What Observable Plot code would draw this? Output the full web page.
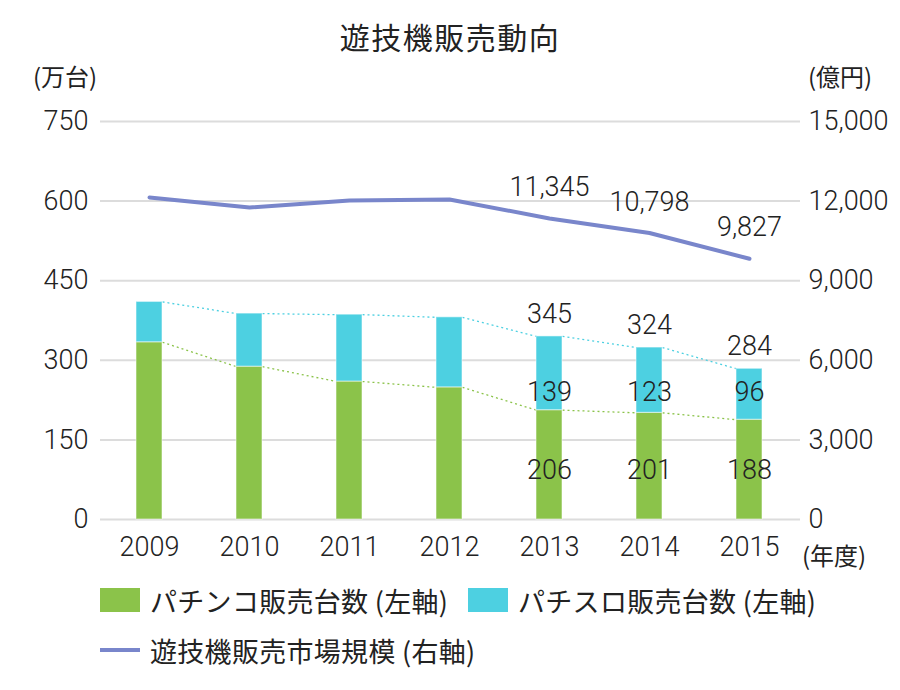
<!DOCTYPE html>
<html>
<head>
<meta charset="utf-8">
<script src="https://cdn.jsdelivr.net/npm/d3@7"></script>
<script src="https://cdn.jsdelivr.net/npm/@observablehq/plot@0.6"></script>
<style>
  html, body { margin: 0; padding: 0; background: #fff; }
  #wrap { position: relative; width: 900px; height: 690px; font-family: Roboto, "Noto Sans CJK JP", sans-serif; color: #222; }
  #wrap svg { position: absolute; left: 0; top: 0; }
  #wrap svg text { font-weight: 300; }
  .abs { position: absolute; white-space: nowrap; font-family: "Noto Sans CJK JP", Roboto, sans-serif; color: #222; line-height: 1; }
  .title { left: 0; width: 900px; text-align: center; top: 21px; font-size: 30px; letter-spacing: 1.5px; }
  .unit { top: 64px; font-size: 24px; }
  .leg { font-size: 27px; letter-spacing: 0.3px; }
  .sw { position: absolute; width: 40px; height: 24px; }
  .ln { position: absolute; width: 40px; height: 4px; }
</style>
</head>
<body>
<div id="wrap"></div>
<script>
const years = [2009, 2010, 2011, 2012, 2013, 2014, 2015];
const pachinko = [334, 288, 260, 249, 206, 201, 188];
const pachislot = [76, 100, 126, 132, 139, 123, 96];
const market = [12137, 11760, 12024, 12062, 11345, 10798, 9827];
const leftTicks = [0, 150, 300, 450, 600, 750];
const rightTicks = [0, 3000, 6000, 9000, 12000, 15000];
const labeledYears = [2013, 2014, 2015];

const GREEN = "#8BC34A", CYAN = "#4DD0E1", LINE = "#7986CB";
const ratio = rightTicks[rightTicks.length - 1] / leftTicks[leftTicks.length - 1];
const half = 0.13;

const rows = years.map((y, i) => ({
  year: y, green: pachinko[i], cyan: pachislot[i], total: pachinko[i] + pachislot[i], market: market[i]
}));
const pairs = rows.slice(0, -1).map((r, i) => ({a: r, b: rows[i + 1]}));
const labeled = rows.filter(r => labeledYears.includes(r.year));
const fmt = d3.format(",");

const chart = Plot.plot({
  width: 900,
  height: 690,
  marginLeft: 100,
  marginRight: 100,
  marginTop: 121,
  marginBottom: 171,
  style: {fontFamily: "Roboto, 'Noto Sans CJK JP', sans-serif", fontSize: "27px", color: "#222", background: "transparent"},
  x: {domain: [2008.51, 2015.51]},
  y: {domain: [0, 750]},
  marks: [
    Plot.gridY(leftTicks, {stroke: "#dcdcdc", strokeOpacity: 1, strokeWidth: 2}),
    Plot.axisY({ticks: leftTicks, anchor: "left", tickSize: 0, tickPadding: 12, label: null, fontSize: 27}),
    Plot.axisY({ticks: leftTicks, anchor: "right", tickSize: 0, tickPadding: 8, label: null, fontSize: 27,
      tickFormat: d => fmt(d * ratio)}),
    Plot.axisX({ticks: years, tickFormat: d => String(d), tickSize: 0, tickPadding: 17, label: null, fontSize: 27}),
    Plot.link(pairs, {x1: d => d.a.year + half, y1: d => d.a.total, x2: d => d.b.year - half, y2: d => d.b.total,
      stroke: CYAN, strokeWidth: 1.3, strokeDasharray: "2,3"}),
    Plot.link(pairs, {x1: d => d.a.year + half, y1: d => d.a.green, x2: d => d.b.year - half, y2: d => d.b.green,
      stroke: GREEN, strokeWidth: 1.3, strokeDasharray: "2,3"}),
    Plot.rectY(rows, {x1: d => d.year - half, x2: d => d.year + half, y1: 0, y2: "green",
      fill: GREEN, stroke: "#fff", strokeOpacity: 0.45, strokeWidth: 1.2}),
    Plot.rectY(rows, {x1: d => d.year - half, x2: d => d.year + half, y1: "green", y2: "total",
      fill: CYAN, stroke: "#fff", strokeOpacity: 0.45, strokeWidth: 1.2}),
    Plot.line(rows, {x: "year", y: d => d.market / ratio, stroke: LINE, strokeWidth: 4, curve: "linear"}),
    Plot.text(labeled, {x: "year", y: d => d.market / ratio, text: d => fmt(d.market), dy: -31, fontSize: 27, fill: "#222"}),
    Plot.text(labeled, {x: "year", y: "total", text: d => String(d.total), dy: -22, fontSize: 27, fill: "#222"}),
    Plot.text(labeled, {x: "year", y: () => 240, text: d => String(d.cyan), fontSize: 27, fill: "#222"}),
    Plot.text(labeled, {x: "year", y: () => 92, text: d => String(d.green), fontSize: 27, fill: "#222"})
  ]
});

const wrap = document.getElementById("wrap");
wrap.appendChild(chart);

function add(html, cls, style) {
  const el = document.createElement("div");
  el.className = cls;
  el.innerHTML = html;
  Object.assign(el.style, style || {});
  wrap.appendChild(el);
  return el;
}
add("遊技機販売動向", "abs title");
add("(万台)", "abs unit", {left: "33px"});
add("(億円)", "abs unit", {left: "808px"});
add("(年度)", "abs unit", {left: "802px", top: "543px"});

add("", "sw", {left: "100px", top: "588px", background: GREEN});
add("パチンコ販売台数 (左軸)", "abs leg", {left: "150px", top: "587px"});
add("", "sw", {left: "468px", top: "588px", background: CYAN});
add("パチスロ販売台数 (左軸)", "abs leg", {left: "518px", top: "587px"});
add("", "ln", {left: "100px", top: "648px", background: LINE});
add("遊技機販売市場規模 (右軸)", "abs leg", {left: "150px", top: "637px"});
</script>
</body>
</html>
